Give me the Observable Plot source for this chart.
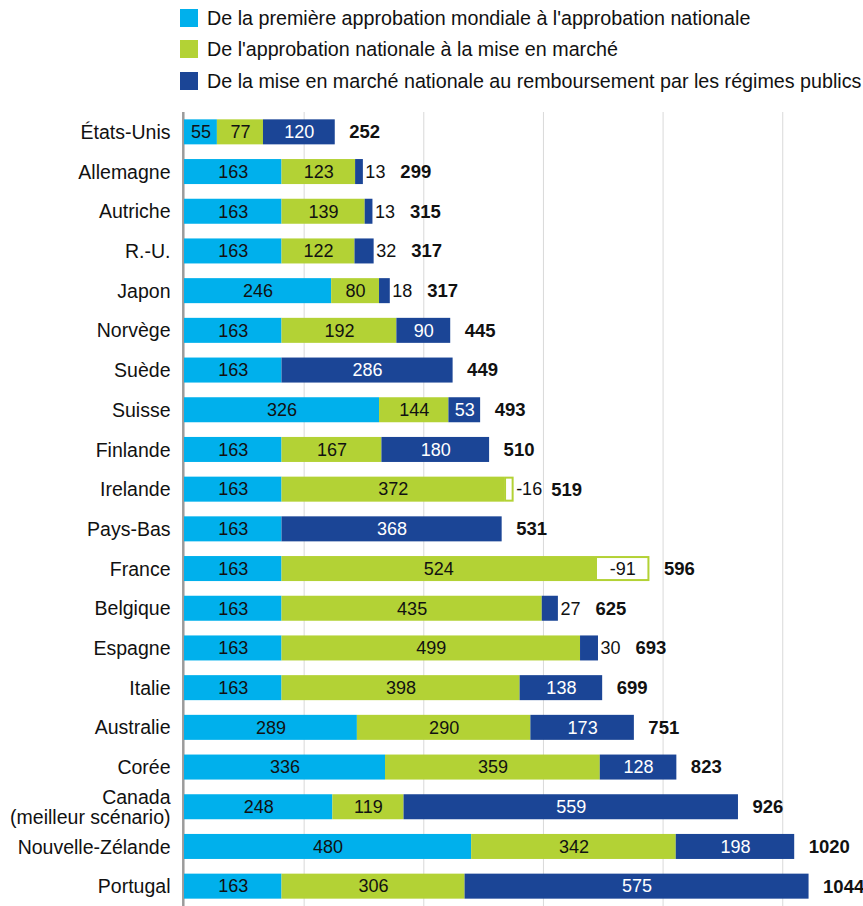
<!DOCTYPE html>
<html>
<head>
<meta charset="utf-8">
<script src="https://cdn.jsdelivr.net/npm/d3@7"></script>
<script src="https://cdn.jsdelivr.net/npm/@observablehq/plot@0.6"></script>
<style>
  html, body { margin: 0; padding: 0; background: #fff; }
  body { width: 863px; height: 906px; overflow: hidden; font-family: "Liberation Sans", Arial, sans-serif; }
  #legend { position: relative; height: 100px; }
  #chart svg { display: block; }
  .item { position: absolute; left: 180px; height: 18px; display: flex; align-items: center; font-size: 19.7px; color: #111; white-space: nowrap; }
  .sw { width: 18px; height: 18px; margin-right: 9px; flex: none; }
</style>
</head>
<body>
<div id="legend"></div>
<div id="chart"></div>
<script>
const countries = ["États-Unis","Allemagne","Autriche","R.-U.","Japon","Norvège","Suède","Suisse","Finlande","Irelande","Pays-Bas","France","Belgique","Espagne","Italie","Australie","Corée","Canada\n(meilleur scénario)","Nouvelle-Zélande","Portugal"];
const worldToNational = [55,163,163,163,246,163,163,326,163,163,163,163,163,163,163,289,336,248,480,163];
const nationalToMarket = [77,123,139,122,80,192,0,116,167,372,0,524,435,499,398,290,359,119,342,306];
const marketToReimb = [120,13,13,32,18,90,286,53,180,-16,368,-91,27,30,138,173,128,559,198,575];
const totals = [252,299,315,317,317,445,449,493,510,519,531,596,625,693,699,751,823,926,1020,1044];
// printed label that differs from the drawn length in the source chart
const printedOverrides = [{country: "Suisse", series: 1, text: "144"}];
const seriesNames = [
  "De la première approbation mondiale à l'approbation nationale",
  "De l'approbation nationale à la mise en marché",
  "De la mise en marché nationale au remboursement par les régimes publics"
];
const colors = ["#00b0ec", "#b3d235", "#1b4596"];
const gridTicks = [200, 400, 600, 800, 1000];

// legend
const legend = document.getElementById("legend");
const tops = [9, 40, 72];
seriesNames.forEach((s, i) => {
  const d = document.createElement("div");
  d.className = "item";
  d.style.top = tops[i] + "px";
  d.innerHTML = `<span class="sw" style="background:${colors[i]}"></span><span></span>`;
  d.lastChild.textContent = s;
  legend.appendChild(d);
});

// build segments
const segs = [], labels = [], totalRows = [];
countries.forEach((c, i) => {
  const a = worldToNational[i], b = nationalToMarket[i], n = marketToReimb[i];
  const parts = [
    {s: 0, x1: 0, x2: a, v: a},
    {s: 1, x1: a, x2: a + b, v: b},
    n >= 0 ? {s: 2, x1: a + b, x2: a + b + n, v: n} : {s: 3, x1: a + b, x2: a + b - n, v: n}
  ];
  let outside = false, extent = 0;
  parts.forEach(p => {
    if (p.v === 0) return;
    extent = Math.max(extent, p.x2);
    segs.push({country: c, ...p});
    const ov = printedOverrides.find(o => o.country === c && o.series === p.s);
    const text = ov ? ov.text : String(p.v);
    const w = p.x2 - p.x1;
    if (w >= 45) {
      labels.push({country: c, x: (p.x1 + p.x2) / 2, text, color: p.s === 2 ? "#ffffff" : "#111111", anchor: "middle"});
    } else {
      outside = true;
      labels.push({country: c, x: p.x2, text, color: "#111111", anchor: "start"});
    }
  });
  totalRows.push({country: c, x: extent, text: String(totals[i]), outside});
});

const font = "Liberation Sans, Arial, sans-serif";
const chart = Plot.plot({
  width: 863,
  height: 806,
  marginLeft: 184,
  marginRight: 0,
  marginTop: 12,
  marginBottom: 0,
  style: {fontFamily: font, fontSize: "18px", background: "#fff"},
  x: {domain: [0, 1135], axis: null},
  y: {domain: countries, paddingInner: 0.37, paddingOuter: 0.185, round: false, axis: null},
  color: {type: "identity"},
  marks: [
    Plot.ruleX(gridTicks, {stroke: "#d9d9d9", strokeWidth: 1}),
    Plot.ruleX([0], {stroke: "#9b9b9b", strokeWidth: 2.5, dx: -1.2}),
    Plot.barX(segs.filter(d => d.s < 3), {y: "country", x1: "x1", x2: "x2", fill: d => colors[d.s]}),
    Plot.barX(segs.filter(d => d.s === 3), {y: "country", x1: "x1", x2: "x2", fill: "#ffffff", stroke: colors[1], strokeWidth: 2, inset: 1}),
    Plot.text(labels.filter(d => d.anchor === "middle"), {y: "country", x: "x", text: "text", fill: "color", fontSize: 18, textAnchor: "middle"}),
    Plot.text(labels.filter(d => d.anchor === "start"), {y: "country", x: "x", text: "text", fill: "color", fontSize: 18, textAnchor: "start", dx: 2}),
    Plot.text(totalRows.filter(d => !d.outside), {y: "country", x: "x", text: "text", fill: "#111", fontSize: 18.5, fontWeight: "bold", textAnchor: "start", dx: 14}),
    Plot.text(totalRows.filter(d => d.outside), {y: "country", x: "x", text: "text", fill: "#111", fontSize: 18.5, fontWeight: "bold", textAnchor: "start", dx: 37}),
    Plot.text(countries, {y: d => d, x: 0, text: d => d, fill: "#111", fontSize: 19.5, textAnchor: "end", dx: -14, lineHeight: 1.05})
  ]
});
document.getElementById("chart").appendChild(chart);
</script>
</body>
</html>
